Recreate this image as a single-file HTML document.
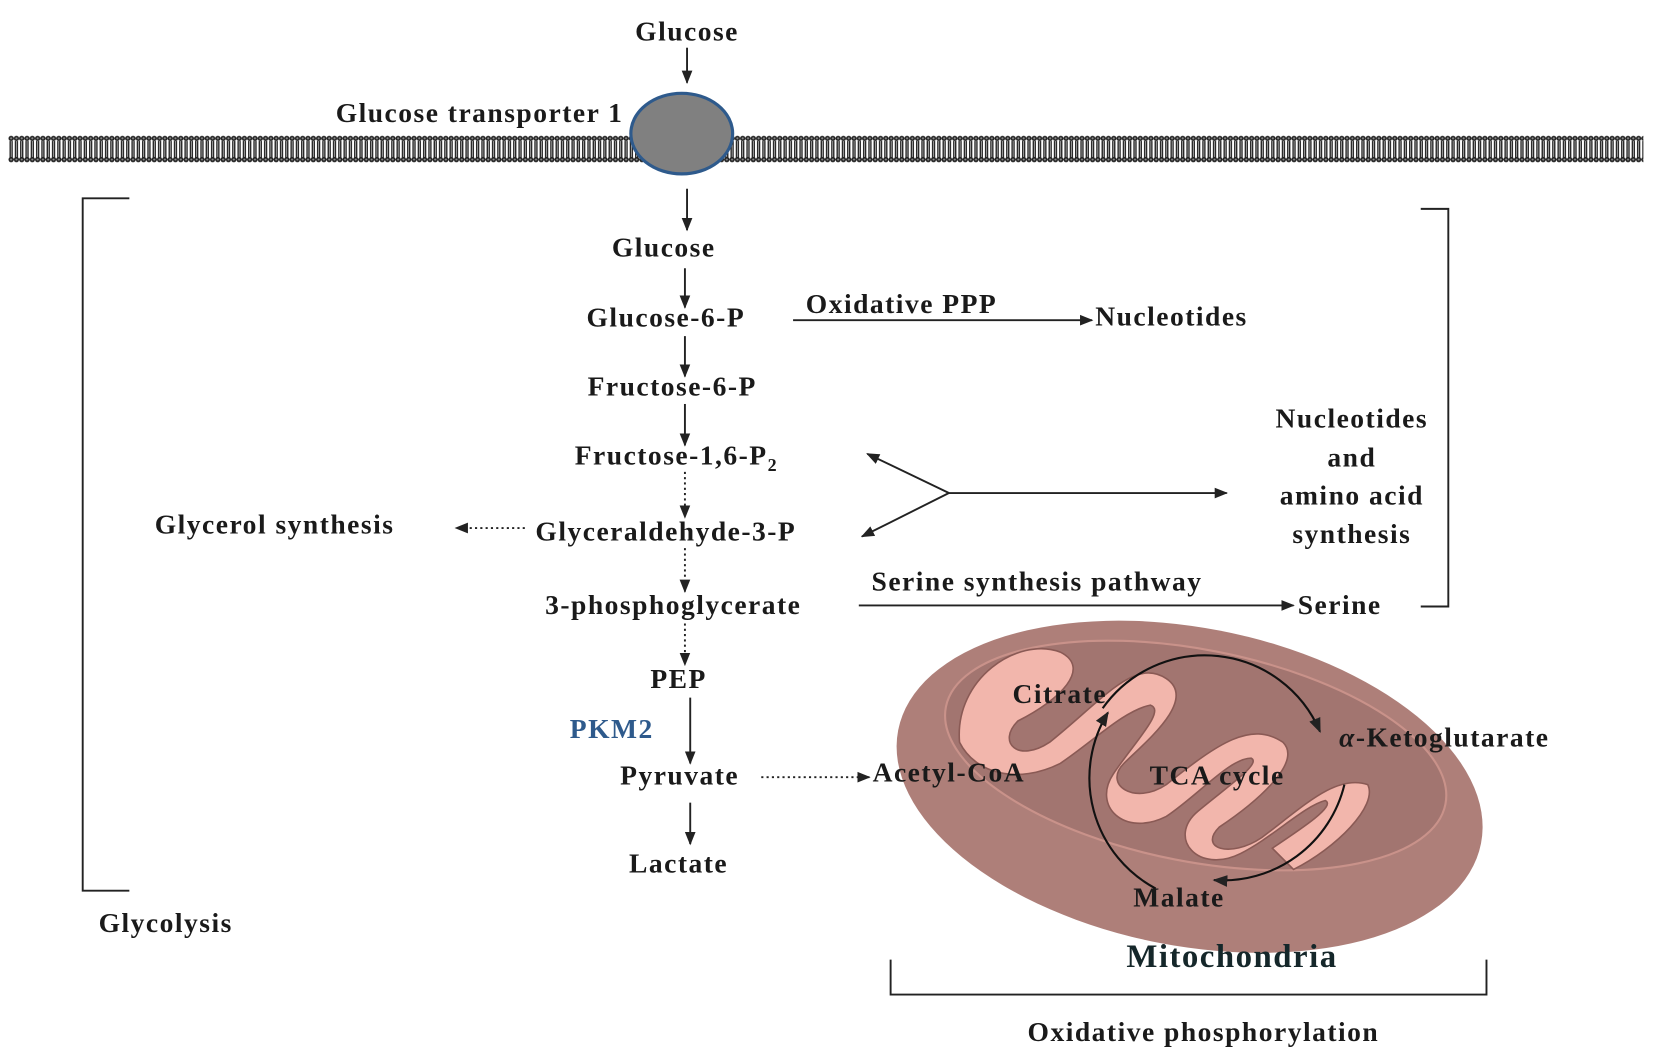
<!DOCTYPE html>
<html><head><meta charset="utf-8"><style>
html,body{margin:0;padding:0;background:#fff;}
svg{display:block}
text{font-family:"Liberation Serif",serif;font-weight:bold;fill:#1a1a1a;letter-spacing:1.4px}
</style></head><body>
<svg width="1654" height="1055" viewBox="0 0 1560 995" preserveAspectRatio="none" xmlns="http://www.w3.org/2000/svg">
<defs>
<marker id="a" viewBox="0 0 10 10" refX="9" refY="5" markerWidth="7" markerHeight="7" orient="auto-start-reverse"><path d="M0,1 L10,5 L0,9 z" fill="#222"/></marker>
<pattern id="lip" x="8" y="127" width="5" height="28" patternUnits="userSpaceOnUse">
<circle cx="2.5" cy="3.5" r="2.5" fill="#222"/>
<circle cx="2.5" cy="3.5" r="1" fill="#888"/>
<line x1="1.6" y1="6" x2="1.6" y2="22" stroke="#222" stroke-width="1.3"/>
<line x1="3.4" y1="6" x2="3.4" y2="22" stroke="#222" stroke-width="1.3"/>
<circle cx="2.5" cy="23.5" r="2.5" fill="#222"/>
<circle cx="2.5" cy="23.5" r="1" fill="#888"/>
</pattern>
</defs>
<rect x="8" y="127" width="1542" height="28" fill="url(#lip)"/>
<ellipse cx="643" cy="126" rx="48" ry="38" fill="#808080" stroke="#2e5a8c" stroke-width="3"/>

<g font-size="26">
<text x="648" y="38" text-anchor="middle">Glucose</text>
<text x="588" y="115" text-anchor="end">Glucose transporter 1</text>
<text x="626" y="242" text-anchor="middle">Glucose</text>
<text x="628" y="308" text-anchor="middle">Glucose-6-P</text>
<text x="634" y="373" text-anchor="middle">Fructose-6-P</text>
<text x="638" y="438" text-anchor="middle">Fructose-1,6-P<tspan font-size="17" dy="6">2</tspan></text>
<text x="628" y="510" text-anchor="middle">Glyceraldehyde-3-P</text>
<text x="635" y="579" text-anchor="middle">3-phosphoglycerate</text>
<text x="640" y="649" text-anchor="middle">PEP</text>
<text x="577" y="696" text-anchor="middle" style="fill:#2e5a8c">PKM2</text>
<text x="641" y="740" text-anchor="middle">Pyruvate</text>
<text x="640" y="823" text-anchor="middle">Lactate</text>
<text x="259" y="503" text-anchor="middle">Glycerol synthesis</text>
<text x="760" y="295">Oxidative PPP</text>
<text x="1033" y="307">Nucleotides</text>
<text x="1275" y="403" text-anchor="middle">Nucleotides</text>
<text x="1275" y="440" text-anchor="middle">and</text>
<text x="1275" y="476" text-anchor="middle">amino acid</text>
<text x="1275" y="512" text-anchor="middle">synthesis</text>
<text x="822" y="557">Serine synthesis pathway</text>
<text x="1224" y="579">Serine</text>
<text x="93" y="879">Glycolysis</text>
<text x="1135" y="982" text-anchor="middle">Oxidative phosphorylation</text>
</g>

<g stroke="#222" stroke-width="1.8" fill="none">
<line x1="648" y1="45" x2="648" y2="78" marker-end="url(#a)"/>
<line x1="648" y1="178" x2="648" y2="217" marker-end="url(#a)"/>
<line x1="646" y1="253" x2="646" y2="290" marker-end="url(#a)"/>
<line x1="646" y1="317" x2="646" y2="355" marker-end="url(#a)"/>
<line x1="646" y1="381" x2="646" y2="420" marker-end="url(#a)"/>
<line x1="646" y1="445" x2="646" y2="488" stroke-dasharray="2,3" marker-end="url(#a)"/>
<line x1="646" y1="517" x2="646" y2="558" stroke-dasharray="2,3" marker-end="url(#a)"/>
<line x1="646" y1="588" x2="646" y2="627" stroke-dasharray="2,3" marker-end="url(#a)"/>
<line x1="651" y1="658" x2="651" y2="720" marker-end="url(#a)"/>
<line x1="651" y1="757" x2="651" y2="796" marker-end="url(#a)"/>
<line x1="718" y1="733" x2="820" y2="733" stroke-dasharray="2,3" marker-end="url(#a)"/>
<line x1="495" y1="498" x2="430" y2="498" stroke-dasharray="2,3" marker-end="url(#a)"/>
<line x1="748" y1="302" x2="1030" y2="302" marker-end="url(#a)"/>
<line x1="895" y1="465" x2="818" y2="428" marker-end="url(#a)"/>
<line x1="895" y1="465" x2="813" y2="506" marker-end="url(#a)"/>
<line x1="895" y1="465" x2="1157" y2="465" marker-end="url(#a)"/>
<line x1="810" y1="571" x2="1220" y2="571" marker-end="url(#a)"/>
<path d="M1340,197 L1366,197 L1366,572 L1340,572"/>
<path d="M122,187 L78,187 L78,840 L122,840"/>
<path d="M840,905 L840,938 L1402,938 L1402,905"/>
</g>

<!-- mitochondria -->
<g transform="rotate(11 1122 742)">
<ellipse cx="1122" cy="742" rx="280" ry="150" fill="#ae7f79"/>
<ellipse cx="1122" cy="712" rx="240" ry="100" fill="#a27570" stroke="#c9928a" stroke-width="2"/>
</g>
<g fill="#f2b6ac" stroke="#8a5a55" stroke-width="1.5">
<path d="M905,700 C900,640 960,600 1000,615 C1030,630 1000,660 960,680 C940,700 960,720 990,700 C1040,660 1070,620 1100,640 C1130,660 1080,700 1060,720 C1040,740 1070,760 1100,740 C1150,700 1180,680 1210,700 C1230,720 1180,760 1150,780 C1130,800 1160,810 1190,790 C1230,760 1260,730 1290,740 C1300,760 1260,800 1220,820 L1200,800 C1230,780 1260,760 1250,755 C1230,760 1200,790 1170,805 C1130,825 1100,790 1130,765 C1160,740 1190,720 1180,715 C1160,715 1130,750 1100,770 C1060,790 1030,760 1050,730 C1070,700 1100,670 1085,665 C1060,670 1030,700 1000,720 C960,740 920,730 905,700 Z"/>
</g>
<g stroke="#111" stroke-width="2" fill="none">
<path d="M1040,668 A118,118 0 0 1 1245,690" marker-end="url(#a)"/>
<path d="M1268,740 A118,118 0 0 1 1145,830" marker-end="url(#a)"/>
<path d="M1090,838 A118,118 0 0 1 1045,672" marker-end="url(#a)"/>
</g>
<g font-size="26">
<text x="955" y="663">Citrate</text>
<text x="823" y="737">Acetyl-CoA</text>
<text x="1263" y="704"><tspan font-style="italic">α</tspan>-Ketoglutarate</text>
<text x="1148" y="740" text-anchor="middle">TCA cycle</text>
<text x="1112" y="855" text-anchor="middle">Malate</text>
<text x="1162" y="912" text-anchor="middle" font-size="31" style="font-weight:bold;fill:#15272a">Mitochondria</text>
</g>
</svg>
</body></html>
